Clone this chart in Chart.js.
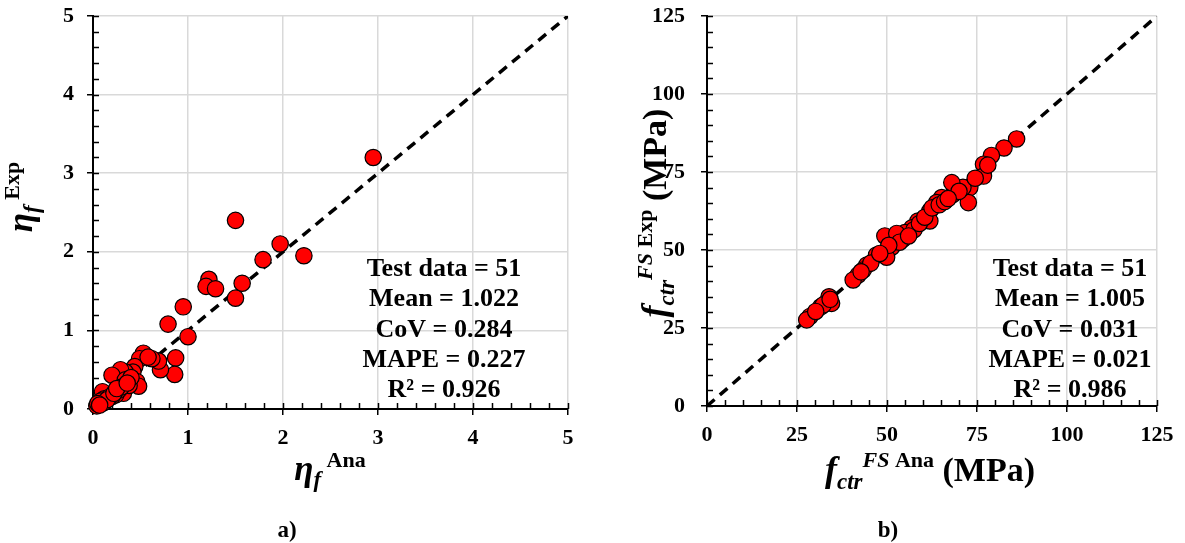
<!DOCTYPE html>
<html lang="en">
<head>
  <meta charset="UTF-8">
  <title>Exp vs Ana</title>
  <script src="https://cdn.jsdelivr.net/npm/chart.js"></script>
  <style>
    body { margin: 0; background: #fff; }
    .wrap { position: relative; width: 1185px; height: 543px; }
    canvas { position: absolute; top: 0; }
  </style>
</head>
<body>
<div class="wrap">
  <canvas id="chartA" width="592" height="543" style="left:0"></canvas>
  <canvas id="chartB" width="593" height="543" style="left:592px"></canvas>
</div>

<script>
  // panel a) eta_f : analytical vs experimental
  const etaAna = [2.95, 1.50, 1.97, 2.22, 1.79, 1.22, 1.19, 1.29, 1.57, 1.50,
                  0.95, 0.79, 1.00, 0.87, 0.86, 0.71, 0.69, 0.62, 0.53, 0.49,
                  0.44, 0.42, 0.34, 0.29, 0.20, 0.46, 0.48, 0.34, 0.32, 0.38,
                  0.24, 0.20, 0.10, 0.14, 0.09, 0.04, 0.06, 0.12, 0.17, 0.27,
                  0.30, 0.08, 0.11, 0.15, 0.22, 0.25, 0.58, 0.05, 0.07, 0.40, 0.36];
  const etaExp = [3.20, 2.40, 2.10, 1.95, 1.90, 1.65, 1.56, 1.53, 1.60, 1.41,
                  1.30, 1.08, 0.92, 0.65, 0.44, 0.50, 0.61, 0.64, 0.71, 0.64,
                  0.54, 0.47, 0.47, 0.50, 0.43, 0.35, 0.29, 0.37, 0.20, 0.30,
                  0.18, 0.16, 0.22, 0.11, 0.09, 0.04, 0.06, 0.13, 0.15, 0.24,
                  0.28, 0.10, 0.08, 0.12, 0.20, 0.26, 0.66, 0.07, 0.05, 0.40, 0.33];
  const etaTicks = [0, 1, 2, 3, 4, 5];
  const etaStats = ['Test data = 51', 'Mean = 1.022', 'CoV = 0.284', 'MAPE = 0.227', 'R\u00b2 = 0.926'];

  // panel b) f_ctr^FS (MPa)
  const fctAna = [86.0, 82.5, 79.0, 76.8, 76.8, 73.0, 72.6, 71.1, 68.3, 68.0,
                  65.2, 63.8, 61.9, 61.9, 58.6, 56.9, 55.0, 54.4, 49.4, 52.7,
                  51.3, 49.9, 47.1, 44.4, 43.4, 42.0, 40.6, 33.9, 34.6, 31.6,
                  28.6, 27.7, 32.3, 57.5, 59.0, 60.5, 62.5, 64.5, 66.0, 53.5,
                  56.0, 50.5, 45.5, 48.0, 42.8, 34.2, 30.2, 70.0, 74.5, 78.0, 67.0];
  const fctExp = [85.6, 82.7, 80.3, 77.5, 73.7, 70.0, 65.2, 70.1, 67.8, 71.6,
                  66.8, 65.2, 62.5, 59.3, 59.3, 57.1, 55.6, 53.4, 54.5, 55.3,
                  50.9, 47.7, 48.4, 45.2, 43.6, 42.0, 40.4, 35.0, 32.9, 31.8,
                  28.7, 27.6, 32.4, 56.5, 58.5, 60.5, 63.5, 64.5, 65.5, 52.5,
                  54.5, 51.5, 45.8, 48.9, 43.0, 34.2, 30.3, 68.8, 73.0, 77.2, 66.5];
  const fctTicks = [0, 25, 50, 75, 100, 125];
  const fctStats = ['Test data = 51', 'Mean = 1.005', 'CoV = 0.031', 'MAPE = 0.021', 'R\u00b2 = 0.986'];

  const SERIF = '"Liberation Serif", "Times New Roman", serif';

  // draw a row of text pieces (sub/superscripts via dy), centred on x
  function drawRuns(ctx, runs, x, y) {
    let w = 0;
    runs.forEach(r => { ctx.font = r.font; r.w = ctx.measureText(r.t).width; w += r.w; });
    let cx = x - w / 2;
    runs.forEach(r => {
      ctx.font = r.font;
      ctx.fillText(r.t, cx, y + (r.dy || 0));
      cx += r.w;
    });
  }

  const decor = {
    id: 'decor',
    beforeDatasetsDraw(chart, args, o) {
      const { ctx, chartArea: a, scales: { x, y } } = chart;
      ctx.save();
      ctx.strokeStyle = '#000';
      ctx.lineWidth = 1.5;
      ctx.beginPath();
      for (let v = x.min; v <= x.max + 1e-9; v += o.minor) {
        const px = Math.round(x.getPixelForValue(v)) + 0.5;
        ctx.moveTo(px, a.bottom);
        ctx.lineTo(px, a.bottom - 6);
      }
      for (let v = y.min; v <= y.max + 1e-9; v += o.minor) {
        const py = Math.round(y.getPixelForValue(v)) + 0.5;
        ctx.moveTo(a.left, py);
        ctx.lineTo(a.left + 6, py);
      }
      ctx.stroke();
      ctx.restore();
    },
    afterDraw(chart, args, o) {
      const ctx = chart.ctx;
      ctx.save();
      ctx.fillStyle = '#000';
      ctx.textAlign = 'left';
      ctx.textBaseline = 'alphabetic';
      // statistics block
      o.stats.forEach((s, i) => {
        ctx.font = 'bold 26px ' + SERIF;
        const w = ctx.measureText(s).width;
        ctx.fillText(s, o.statsX - w / 2, o.statsY + i * 30.3);
      });
      // x title
      drawRuns(ctx, o.xTitle, o.xTitleX, o.xTitleY);
      // y title, rotated
      ctx.translate(o.yTitleX, o.yTitleY);
      ctx.rotate(-Math.PI / 2);
      drawRuns(ctx, o.yTitle, 0, 0);
      ctx.setTransform(1, 0, 0, 1, 0, 0);
      // panel label
      ctx.font = 'bold 23px ' + SERIF;
      const lw = ctx.measureText(o.panel).width;
      ctx.fillText(o.panel, o.panelX - lw / 2, 537);
      ctx.restore();
    }
  };

  function axis(min, max, ticks, fit, pad) {
    return {
      type: 'linear',
      min: min,
      max: max,
      afterBuildTicks: s => { s.ticks = ticks.map(v => ({ value: v })); },
      afterFit: s => {
        fit(s);
        s.paddingTop = s.paddingBottom = s.paddingLeft = s.paddingRight = 0;
      },
      grid: { color: '#d9d9d9', lineWidth: 1.5, tickColor: '#000', tickLength: 6, tickWidth: 1.5 },
      border: { color: '#000', width: 2 },
      ticks: {
        color: '#000',
        padding: pad,
        maxRotation: 0,
        font: { family: SERIF, weight: 'bold', size: 22 }
      }
    };
  }

  function makeChart(id, xs, ys, ticks, padRight, xHeight, decorOpts) {
    const lim = [ticks[0], ticks[ticks.length - 1]];
    const pts = xs.map((v, i) => ({ x: v, y: ys[i] }));
    return new Chart(document.getElementById(id), {
      type: 'scatter',
      data: {
        datasets: [{
          data: pts,
          backgroundColor: '#ff0000',
          borderColor: '#000',
          borderWidth: 1.2,
          pointRadius: 8.2,
          clip: false,
          order: 1
        }, {
          type: 'line',
          data: [{ x: lim[0], y: lim[0] }, { x: lim[1], y: lim[1] }],
          borderColor: '#000',
          borderWidth: 3.5,
          borderDash: [10, 7],
          pointRadius: 0,
          order: 2
        }]
      },
      options: {
        responsive: false,
        animation: false,
        events: [],
        layout: { autoPadding: false, padding: { top: 16, right: padRight, left: 0, bottom: 0 } },
        plugins: { legend: { display: false }, tooltip: { enabled: false }, decor: decorOpts },
        scales: {
          x: axis(lim[0], lim[1], ticks, s => { s.height = xHeight; }, 10),
          y: axis(lim[0], lim[1], ticks, s => { s.width = decorOpts.yWidth; }, decorOpts.yPad)
        }
      },
      plugins: [decor]
    });
  }

  const bi = sz => 'italic bold ' + sz + 'px ' + SERIF;
  const b = sz => 'bold ' + sz + 'px ' + SERIF;

  makeChart('chartA', etaAna, etaExp, etaTicks, 24, 134, {
    yWidth: 93, yPad: 13,
    minor: 0.2,
    stats: etaStats, statsX: 444, statsY: 276,
    xTitle: [{ t: '\u03b7', font: bi(35) }, { t: 'f', font: bi(23), dy: 7 }, { t: ' Ana', font: b(22), dy: -13 }],
    xTitleX: 330, xTitleY: 480,
    yTitle: [{ t: '\u03b7', font: bi(35) }, { t: 'f', font: bi(23), dy: 7 }, { t: ' Exp', font: b(22), dy: -13 }],
    yTitleX: 32, yTitleY: 197,
    panel: 'a)', panelX: 287
  });

  makeChart('chartB', fctAna, fctExp, fctTicks, 28, 137, {
    yWidth: 115, yPad: 16,
    minor: 5,
    stats: fctStats, statsX: 1070 - 592, statsY: 276,
    xTitle: [{ t: 'f', font: bi(36) }, { t: 'ctr', font: bi(23), dy: 8 }, { t: 'FS', font: bi(22), dy: -14 },
             { t: ' Ana', font: b(22), dy: -14 }, { t: ' (MPa)', font: b(34) }],
    xTitleX: 930 - 592, xTitleY: 481,
    yTitle: [{ t: 'f', font: bi(36) }, { t: 'ctr', font: bi(23), dy: 8 }, { t: 'FS', font: bi(22), dy: -14 },
             { t: ' Exp', font: b(22), dy: -14 }, { t: ' (MPa)', font: b(34) }],
    yTitleX: 666 - 592, yTitleY: 213,
    panel: 'b)', panelX: 888 - 592
  });
</script>
</body>
</html>
